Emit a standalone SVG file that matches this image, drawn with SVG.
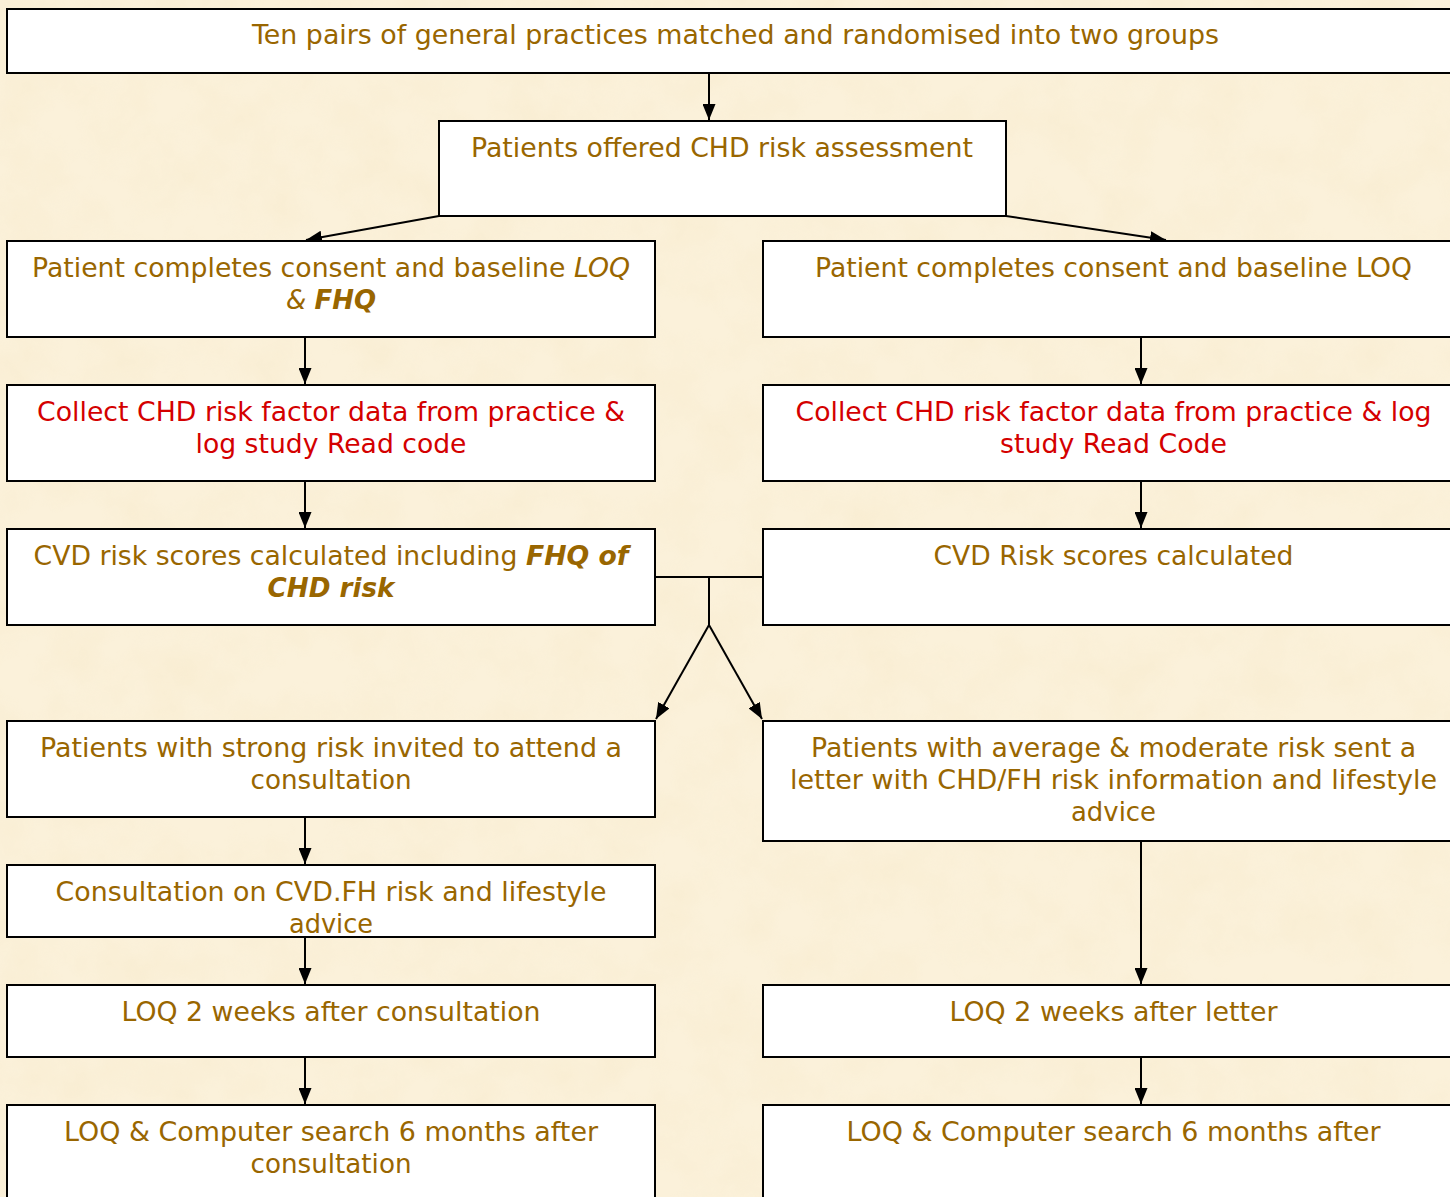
<svg xmlns="http://www.w3.org/2000/svg" width="1450" height="1197" viewBox="0 0 1450 1197">
<style>
.box{fill:#ffffff;stroke:#000000;stroke-width:2}
.t{font-family:"DejaVu Sans","Verdana","Liberation Sans",sans-serif;font-size:27px;fill:#996600;text-anchor:middle}
.red{fill:#d40000}
.it{font-style:italic}
.bi{font-style:italic;font-weight:bold}
.c{stroke:#000000;stroke-width:2;fill:none}
.ca{stroke:#000000;stroke-width:2;fill:none;marker-end:url(#ah)}
</style>
<defs>
<marker id="ah" viewBox="0 0 16 13" refX="16" refY="6.5" markerWidth="8" markerHeight="6.5" markerUnits="strokeWidth" orient="auto">
<path d="M0,0 L16,6.5 L0,13 z" fill="#000000"/>
</marker>
<filter id="parch" x="0" y="0" width="100%" height="100%">
<feTurbulence type="fractalNoise" baseFrequency="0.02" numOctaves="4" seed="7"/>
<feColorMatrix type="matrix" values="0 0 0 0 0.93  0 0 0 0 0.82  0 0 0 0 0.60  1.7 0 0 0 -0.6"/>
</filter>
</defs>
<rect x="0" y="0" width="1450" height="1197" fill="#fbf1da"/>
<rect x="0" y="0" width="1450" height="1197" filter="url(#parch)" opacity="0.5"/>

<g id="connectors">
<line class="ca" x1="709" y1="73" x2="709" y2="120"/>
<line class="ca" x1="439" y1="216" x2="306" y2="240"/>
<line class="ca" x1="1006" y1="216" x2="1166" y2="240"/>
<line class="ca" x1="305" y1="337" x2="305" y2="384"/>
<line class="ca" x1="305" y1="481" x2="305" y2="528"/>
<line class="ca" x1="305" y1="817" x2="305" y2="864"/>
<line class="ca" x1="305" y1="937" x2="305" y2="984"/>
<line class="ca" x1="305" y1="1057" x2="305" y2="1104"/>
<line class="ca" x1="1141" y1="337" x2="1141" y2="384"/>
<line class="ca" x1="1141" y1="481" x2="1141" y2="528"/>
<line class="ca" x1="1141" y1="841" x2="1141" y2="984"/>
<line class="ca" x1="1141" y1="1057" x2="1141" y2="1104"/>
<line class="c" x1="655" y1="577" x2="763" y2="577"/>
<line class="c" x1="709" y1="577" x2="709" y2="625"/>
<line class="ca" x1="709" y1="625" x2="656" y2="719"/>
<line class="ca" x1="709" y1="625" x2="762" y2="719"/>
</g>

<g id="n_top">
<rect class="box" x="7" y="9" width="1457" height="64"/>
<text class="t" x="735.5" y="44" textLength="967" lengthAdjust="spacingAndGlyphs">Ten pairs of general practices matched and randomised into two groups</text>
</g>
<g id="n_offer">
<rect class="box" x="439" y="121" width="567" height="95"/>
<text class="t" x="722" y="157" textLength="502" lengthAdjust="spacingAndGlyphs">Patients offered CHD risk assessment</text>
</g>

<g id="n_l1">
<rect class="box" x="7" y="241" width="648" height="96"/>
<text class="t" x="331" y="277" textLength="598" lengthAdjust="spacingAndGlyphs">Patient completes consent and baseline <tspan class="it">LOQ</tspan></text>
<text class="t" x="331" y="309" textLength="90" lengthAdjust="spacingAndGlyphs"><tspan class="it">&amp; </tspan><tspan class="bi">FHQ</tspan></text>
</g>
<g id="n_r1">
<rect class="box" x="763" y="241" width="701" height="96"/>
<text class="t" x="1113.5" y="277" textLength="597" lengthAdjust="spacingAndGlyphs">Patient completes consent and baseline LOQ</text>
</g>

<g id="n_l2">
<rect class="box" x="7" y="385" width="648" height="96"/>
<text class="t red" x="331" y="421" textLength="588" lengthAdjust="spacingAndGlyphs">Collect CHD risk factor data from practice &amp;</text>
<text class="t red" x="331" y="453" textLength="271" lengthAdjust="spacingAndGlyphs">log study Read code</text>
</g>
<g id="n_r2">
<rect class="box" x="763" y="385" width="701" height="96"/>
<text class="t red" x="1113.5" y="421" textLength="636" lengthAdjust="spacingAndGlyphs">Collect CHD risk factor data from practice &amp; log</text>
<text class="t red" x="1113.5" y="453" textLength="227" lengthAdjust="spacingAndGlyphs">study Read Code</text>
</g>

<g id="n_l3">
<rect class="box" x="7" y="529" width="648" height="96"/>
<text class="t" x="331" y="565" textLength="595" lengthAdjust="spacingAndGlyphs">CVD risk scores calculated including <tspan class="bi">FHQ of</tspan></text>
<text class="t" x="331" y="597" textLength="127" lengthAdjust="spacingAndGlyphs"><tspan class="bi">CHD risk</tspan></text>
</g>
<g id="n_r3">
<rect class="box" x="763" y="529" width="701" height="96"/>
<text class="t" x="1113.5" y="565" textLength="360" lengthAdjust="spacingAndGlyphs">CVD Risk scores calculated</text>
</g>

<g id="n_l4">
<rect class="box" x="7" y="721" width="648" height="96"/>
<text class="t" x="331" y="757" textLength="582" lengthAdjust="spacingAndGlyphs">Patients with strong risk invited to attend a</text>
<text class="t" x="331" y="789" textLength="161" lengthAdjust="spacingAndGlyphs">consultation</text>
</g>
<g id="n_r4">
<rect class="box" x="763" y="721" width="701" height="120"/>
<text class="t" x="1113.5" y="757" textLength="605" lengthAdjust="spacingAndGlyphs">Patients with average &amp; moderate risk sent a</text>
<text class="t" x="1113.5" y="789" textLength="647" lengthAdjust="spacingAndGlyphs">letter with CHD/FH risk information and lifestyle</text>
<text class="t" x="1113.5" y="821" textLength="85" lengthAdjust="spacingAndGlyphs">advice</text>
</g>

<g id="n_l5">
<rect class="box" x="7" y="865" width="648" height="72"/>
<text class="t" x="331" y="901" textLength="551" lengthAdjust="spacingAndGlyphs">Consultation on CVD.FH risk and lifestyle</text>
<text class="t" x="331" y="933" textLength="84" lengthAdjust="spacingAndGlyphs">advice</text>
</g>

<g id="n_l6">
<rect class="box" x="7" y="985" width="648" height="72"/>
<text class="t" x="331" y="1021" textLength="419" lengthAdjust="spacingAndGlyphs">LOQ 2 weeks after consultation</text>
</g>
<g id="n_r5">
<rect class="box" x="763" y="985" width="701" height="72"/>
<text class="t" x="1113.5" y="1021" textLength="328" lengthAdjust="spacingAndGlyphs">LOQ 2 weeks after letter</text>
</g>

<g id="n_l7">
<rect class="box" x="7" y="1105" width="648" height="120"/>
<text class="t" x="331" y="1141" textLength="534" lengthAdjust="spacingAndGlyphs">LOQ &amp; Computer search 6 months after</text>
<text class="t" x="331" y="1173" textLength="161" lengthAdjust="spacingAndGlyphs">consultation</text>
</g>
<g id="n_r6">
<rect class="box" x="763" y="1105" width="701" height="120"/>
<text class="t" x="1113.5" y="1141" textLength="534" lengthAdjust="spacingAndGlyphs">LOQ &amp; Computer search 6 months after</text>
</g>
</svg>
